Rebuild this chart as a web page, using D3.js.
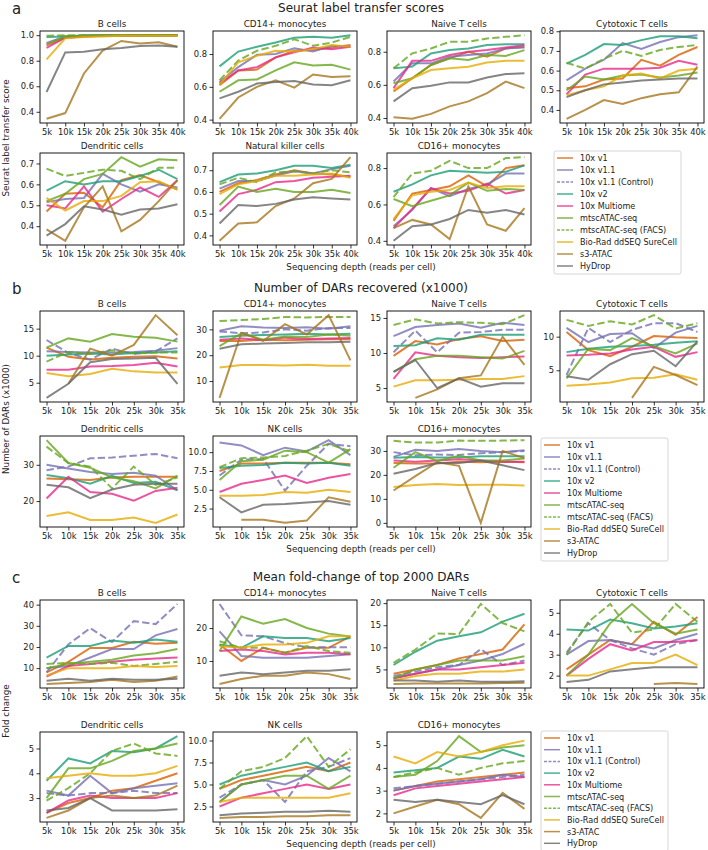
<!DOCTYPE html>
<html>
<head>
<meta charset="utf-8">
<script src="https://cdn.jsdelivr.net/npm/d3@7"></script>
<style>
  body { margin: 0; background: #fff; }
  svg { font-family: "DejaVu Sans", sans-serif; }
</style>
</head>
<body>
<div id="chart"></div>
<script>
// methods, in legend order
const methods = ["10x v1", "10x v1.1", "10x v1.1 (Control)", "10x v2", "10x Multiome",
  "mtscATAC-seq", "mtscATAC-seq (FACS)", "Bio-Rad ddSEQ SureCell", "s3-ATAC", "HyDrop"];
const colors = ["#d95f02", "#7570b3", "#7570b3", "#1b9e77", "#e7298a",
  "#66a61e", "#66a61e", "#e6ab02", "#a6761d", "#666666"];
const dashed = [false, false, true, false, false, false, true, false, false, false];

const depthsA = [5, 10, 15, 20, 25, 30, 35, 40];
const depthsBC = [5, 10, 15, 20, 25, 30, 35];

const cellTypes = ["B cells", "CD14+ monocytes", "Naive T cells", "Cytotoxic T cells",
  "Dendritic cells", "Natural killer cells", "CD16+ monocytes"];
const cellTypesShort = ["B cells", "CD14+ monocytes", "Naive T cells", "Cytotoxic T cells",
  "Dendritic cells", "NK cells", "CD16+ monocytes"];

// ---- a: Seurat label transfer scores (rows follow `methods`) ----
const aBcells = [
  [0.92, 0.98, 0.99, 0.995, 0.995, 0.995, 0.995, 0.995],
  [0.94, 0.99, 1.0, 1.0, 1.0, 1.0, 1.0, 1.0],
  null,
  [0.985, 0.99, 0.995, 1.0, 1.0, 1.0, 1.0, 1.0],
  [0.90, 0.98, 0.99, 0.995, 1.0, 1.0, 1.0, 1.0],
  [0.93, 0.99, 0.995, 1.0, 1.0, 1.0, 1.0, 1.0],
  [0.995, 1.0, 1.0, 1.0, 1.0, 1.0, 1.0, 1.0],
  [0.81, 0.975, 0.985, 0.99, 0.995, 0.995, 0.995, 0.995],
  [0.345, 0.39, 0.70, 0.88, 0.955, 0.935, 0.945, 0.91],
  [0.555, 0.865, 0.87, 0.89, 0.90, 0.915, 0.92, 0.91]
];
const aCD14 = [
  [0.61, 0.70, 0.705, 0.78, 0.82, 0.825, 0.84, 0.855],
  [0.63, 0.72, 0.795, 0.80, 0.835, 0.815, 0.85, 0.845],
  null,
  [0.725, 0.815, 0.845, 0.87, 0.90, 0.905, 0.90, 0.915],
  [0.62, 0.70, 0.72, 0.78, 0.81, 0.84, 0.83, 0.845],
  [0.57, 0.64, 0.645, 0.70, 0.75, 0.73, 0.735, 0.705],
  [0.64, 0.76, 0.82, 0.85, 0.89, 0.85, 0.87, 0.905],
  [0.61, 0.75, 0.79, 0.82, 0.815, 0.83, 0.855, 0.845],
  [0.405, 0.535, 0.60, 0.64, 0.595, 0.675, 0.66, 0.665],
  [0.53, 0.57, 0.62, 0.63, 0.635, 0.615, 0.61, 0.64]
];
const aNaive = [
  [0.56, 0.64, 0.72, 0.76, 0.80, 0.77, 0.82, 0.83],
  [0.62, 0.73, 0.73, 0.77, 0.78, 0.79, 0.82, 0.825],
  null,
  [0.70, 0.71, 0.79, 0.81, 0.82, 0.84, 0.845, 0.845],
  [0.58, 0.745, 0.745, 0.78, 0.80, 0.81, 0.825, 0.84],
  [0.61, 0.64, 0.72, 0.76, 0.75, 0.78, 0.775, 0.81],
  [0.70, 0.79, 0.82, 0.86, 0.86, 0.88, 0.89, 0.90],
  [0.57, 0.64, 0.69, 0.70, 0.71, 0.735, 0.745, 0.745],
  [0.405, 0.395, 0.425, 0.47, 0.50, 0.55, 0.62, 0.58],
  [0.50, 0.58, 0.595, 0.615, 0.615, 0.645, 0.665, 0.67]
];
const aCyto = [
  [0.51, 0.52, 0.555, 0.56, 0.655, 0.625, 0.68, 0.72],
  [0.55, 0.61, 0.655, 0.74, 0.71, 0.745, 0.77, 0.78],
  null,
  [0.635, 0.68, 0.735, 0.73, 0.755, 0.775, 0.775, 0.765],
  [0.48, 0.58, 0.61, 0.61, 0.61, 0.615, 0.65, 0.63],
  [0.50, 0.57, 0.555, 0.575, 0.58, 0.565, 0.575, 0.59],
  [0.64, 0.61, 0.66, 0.70, 0.675, 0.705, 0.72, 0.73],
  [0.475, 0.50, 0.52, 0.575, 0.585, 0.56, 0.60, 0.61],
  [0.355, 0.40, 0.45, 0.43, 0.46, 0.48, 0.49, 0.62],
  [0.465, 0.50, 0.53, 0.54, 0.55, 0.555, 0.56, 0.56]
];
const aDendritic = [
  [0.47, 0.555, 0.56, 0.49, 0.62, 0.645, 0.61, 0.575],
  [0.515, 0.53, 0.535, 0.65, 0.60, 0.565, 0.60, 0.585],
  null,
  [0.57, 0.615, 0.60, 0.615, 0.615, 0.64, 0.67, 0.625],
  [0.50, 0.485, 0.59, 0.47, 0.53, 0.585, 0.54, 0.62],
  [0.52, 0.555, 0.625, 0.65, 0.73, 0.685, 0.72, 0.715],
  [0.675, 0.64, 0.655, 0.67, 0.665, 0.625, 0.68, 0.68],
  [0.535, 0.475, 0.52, 0.52, 0.545, 0.61, 0.615, 0.575],
  [0.385, 0.33, 0.49, 0.59, 0.375, 0.43, 0.52, 0.62],
  [0.355, 0.41, 0.495, 0.48, 0.455, 0.48, 0.485, 0.505]
];
const aNK = [
  [0.60, 0.64, 0.655, 0.68, 0.70, 0.685, 0.68, 0.67],
  [0.615, 0.65, 0.65, 0.675, 0.695, 0.685, 0.705, 0.72],
  null,
  [0.645, 0.68, 0.685, 0.70, 0.72, 0.72, 0.71, 0.725],
  [0.51, 0.59, 0.61, 0.645, 0.65, 0.665, 0.67, 0.675],
  [0.54, 0.625, 0.60, 0.615, 0.60, 0.60, 0.61, 0.595],
  [0.635, 0.665, 0.645, 0.69, 0.695, 0.685, 0.70, 0.69],
  [0.59, 0.635, 0.65, 0.675, 0.675, 0.68, 0.685, 0.665],
  [0.375, 0.455, 0.46, 0.535, 0.57, 0.64, 0.66, 0.76],
  [0.455, 0.54, 0.535, 0.545, 0.565, 0.575, 0.57, 0.565]
];
const aCD16 = [
  [0.51, 0.66, 0.68, 0.70, 0.76, 0.70, 0.80, 0.815],
  [0.48, 0.57, 0.69, 0.645, 0.685, 0.71, 0.77, 0.77],
  null,
  [0.67, 0.71, 0.76, 0.785, 0.78, 0.775, 0.78, 0.815],
  [0.47, 0.575, 0.69, 0.66, 0.675, 0.715, 0.66, 0.68],
  [0.63, 0.59, 0.62, 0.65, 0.72, 0.675, 0.685, 0.68],
  [0.64, 0.77, 0.785, 0.84, 0.80, 0.80, 0.855, 0.86],
  [0.52, 0.65, 0.67, 0.68, 0.72, 0.69, 0.70, 0.70],
  [0.47, 0.515, 0.49, 0.41, 0.70, 0.49, 0.455, 0.58],
  [0.40, 0.48, 0.49, 0.52, 0.57, 0.555, 0.57, 0.545]
];

// ---- b: number of DARs (x1000) ----
const bBcells = [
  [11.5, 9.8, 9.3, 9.6, 9.8, 9.9, 9.5],
  [10.8, 10.7, 10.6, 10.6, 10.7, 10.9, 11.4],
  [12.9, 10.5, 9.3, 11.3, 10.3, 10.8, 13.2],
  [10.0, 10.2, 10.4, 10.2, 10.5, 10.6, 10.8],
  [7.4, 7.4, 8.0, 8.1, 8.3, 8.7, 8.0],
  [11.5, 13.2, 12.6, 14.0, 13.5, 13.3, 12.6],
  [8.9, 10.7, 10.3, 11.0, 10.4, 10.6, 10.6],
  [6.8, 6.2, 6.6, 7.6, 7.1, 6.9, 6.9],
  [null, 4.8, 11.3, 10.0, 12.0, 17.5, 13.8],
  [2.2, 4.8, 8.8, 9.4, 9.5, 9.6, 4.8]
];
const bCD14 = [
  [25.5, 25.5, 26.0, 25.8, 26.0, 26.2, 26.2],
  [29.5, 31.2, 30.7, 30.5, 30.8, 30.2, 31.2],
  [29.2, 28.5, 28.8, 30.0, 29.5, 30.5, 30.5],
  [27.0, 27.5, 27.8, 28.0, 28.3, 28.0, 28.3],
  [26.0, 26.5, 25.8, 26.8, 26.3, 26.5, 26.7],
  [23.5, 28.5, 26.0, 27.2, 27.0, 28.0, 27.5],
  [33.2, 33.6, 34.0, 34.8, 34.6, 34.8, 34.8],
  [15.2, 16.2, 16.2, 16.0, 16.3, 15.9, 15.9],
  [3.5, 28.7, 25.5, 32.0, 28.0, 35.5, 18.0],
  [22.5, 24.2, 24.5, 24.7, 25.0, 25.0, 25.2]
];
const bNaive = [
  [9.6, 11.7, 11.2, 12.0, 12.4, 11.7, 11.9],
  [12.4, 13.7, 14.0, 14.2, 13.6, 14.3, 14.0],
  [10.1, 13.2, 10.1, 12.9, 13.0, 13.3, 13.3],
  [11.0, 11.1, 12.1, 11.9, 12.6, 12.6, 12.6],
  [6.3, 10.1, 9.6, 9.4, 9.3, 9.4, 9.5],
  [7.3, 9.1, 9.6, 9.6, 9.4, 9.2, 10.3],
  [14.0, 14.8, 14.2, 14.4, 14.3, 14.1, 15.4],
  [5.2, 6.1, 6.1, 6.2, 6.3, 6.3, 6.7],
  [null, 3.6, 4.8, 6.4, 6.8, 12.3, 8.3],
  [7.3, 9.0, 5.0, 6.4, 5.2, 5.7, 5.7]
];
const bCyto = [
  [10.7, 8.0, 7.1, 8.5, 10.1, 9.9, 9.8],
  [11.3, 9.2, 10.4, 10.5, 8.3, 10.6, 11.6],
  [4.3, 11.3, 9.2, 11.0, 12.0, 12.0, 10.7],
  [7.7, 8.2, 8.5, 8.6, 8.8, 9.1, 9.3],
  [7.2, 7.3, 7.5, 8.1, 8.5, 7.0, 7.7],
  [3.8, 8.2, 8.0, 9.8, 8.6, 7.5, 9.0],
  [12.5, 11.6, 12.3, 11.8, 13.2, 11.2, 12.0],
  [2.7, 2.9, 3.2, 3.8, 3.9, 4.4, 3.6],
  [null, null, null, 0.9, 5.5, 4.3, 2.8],
  [4.1, 3.6, 5.9, 7.4, 7.9, 5.6, 9.3]
];
const bDendritic = [
  [26.2, 26.0, 25.8, 26.5, 26.7, 26.7, 26.7],
  [30.0, 29.0, 28.0, 27.5, 27.8, 27.0, 23.0],
  [28.5, 29.5, 31.8, 32.0, 32.5, 33.0, 31.8],
  [27.2, 26.3, 24.8, 27.0, 25.0, 25.3, 23.0],
  [20.7, 26.7, 22.5, 22.0, 20.1, 22.8, 23.7],
  [36.8, 30.5, 29.2, 26.5, 25.5, 23.5, 27.0],
  [35.0, 30.5, 29.5, 23.5, 29.5, 24.5, 26.5],
  [15.9, 16.9, 14.8, 14.8, 15.5, 14.0, 16.3],
  null,
  [24.5, 23.8, 20.8, 23.2, 24.5, 24.8, 24.8]
];
const bNK = [
  [7.5, 8.5, 8.5, 8.6, 8.6, 8.6, 8.4],
  [11.3, 10.9, 9.6, 10.6, 10.1, 11.6, 9.6],
  [6.9, 9.0, 9.1, 4.9, 8.2, 11.1, 10.8],
  [7.9, 8.2, 8.3, 8.6, 8.5, 8.6, 8.2],
  [4.7, 5.8, 6.3, 6.9, 5.9, 6.6, 7.1],
  [6.3, 8.8, 9.0, 10.2, 10.0, 8.6, 10.4],
  [8.0, 9.2, 9.3, 9.5, 10.2, 11.1, 10.1],
  [4.2, 4.2, 4.3, 4.7, 4.6, 5.0, 4.7],
  [null, 1.0, 1.0, 0.6, 0.9, 4.0, 3.4],
  [4.0, 2.0, 3.0, 3.1, 3.3, 3.5, 3.0]
];
const bCD16 = [
  [25.0, 24.8, 24.8, 25.5, 25.3, 25.5, 25.3],
  [27.5, 30.5, 30.0, 30.8, 30.0, 29.5, 30.3],
  [29.5, 28.2, 28.5, 28.3, 29.0, 29.5, 30.0],
  [27.2, 27.5, 27.3, 27.3, 27.8, 27.8, 27.8],
  [26.0, 25.5, 26.0, 26.5, 26.0, 25.5, 25.5],
  [23.0, 29.5, 25.8, 28.0, 26.0, 26.0, 26.8],
  [34.2, 33.5, 33.5, 34.3, 34.2, 34.3, 34.5],
  [15.0, 15.8, 16.2, 15.8, 15.9, 15.9, 15.6],
  [13.5, 19.5, 25.3, 23.8, 0.0, 30.0, 27.0],
  [20.5, 22.5, 25.0, 25.0, 26.0, 24.0, 22.0]
];

// ---- c: mean fold-change of top 2000 DARs ----
const cBcells = [
  [8, 13, 19.5, 19.5, 22.5, 21.5, 22],
  [10, 11, 15, 19, 19, 25.5, 28.5],
  [8, 21.2, 28.9, 22.3, 32.2, 30.8, 40.3],
  [15, 20.5, 20.5, 23, 22, 23.5, 22.5],
  [6, 11, 12, 13, 14, 14.5, 15],
  [10, 12, 13, 14, 16, 17, 19],
  [12, 12.5, 12, 12.5, 11, 12, 13],
  [6.5, 10, 10, 10, 11, 10.5, 11],
  [2.5, 3, 3.5, 4.5, 3.5, 4, 6],
  [4, 5, 4, 5, 4.5, 4.5, 5]
];
const cCD14 = [
  [15, 10, 14, 12.5, 14, 14, 17.5],
  [19, 11.5, 11, 11, 11, 11.5, 12],
  [27.3, 17.8, 17.5, 15.4, 14.2, 14.2, 14.2],
  [15, 14, 17.5, 17, 17, 16, 17],
  [13, 13.5, 13, 12, 12.5, 12.5, 12],
  [13, 23.5, 21.3, 22.7, 20, 18.3, 17.4],
  [16, 14, 14, 12.5, 14.5, 13, 12.5],
  [14.5, 14, 15, 15, 15.5, 17.5, 17.5],
  [3, 4.5, 5.5, 5.5, 6.5, 6, 4.5],
  [5.5, 6.5, 6, 6.5, 7, 7, 7.5]
];
const cNaive = [
  [4, 5, 6, 7.5, 8.5, 9.5, 15.2],
  [3, 4, 5, 6, 7, 8.5, 10.8],
  [3.5, 4.5, 5.5, 6, 9.6, 6, 7],
  [6, 9, 11.5, 12.5, 13.4, 15.8, 17.6],
  [3, 4, 5, 5, 5.5, 6, 6.5],
  [3, 5, 6, 7, 7, 7, 8],
  [6.5, 9.5, 13.1, 13, 19.8, 15.5, 13.6],
  [2.5, 3.5, 4, 4, 4.5, 4.5, 5],
  [1.7, 1.8, 1.8, 1.8, 1.8, 1.9, 2],
  [2.5, 2.5, 2.2, 2.5, 2.2, 2.2, 2.3]
];
const cCyto = [
  [2.3, 3, 3.7, 3.5, 4.57, 3.95, 4.8],
  [3.0, 3.65, 3.7, 3.5, 3.3, 3.7, 4.0],
  [3.1, 4.5, 3.7, 3.3, 3.0, 3.5, 3.7],
  [4.2, 4.15, 4.68, 4.5, 4.25, 4.35, 4.5],
  [2.0, 2.8, 3.5, 3.2, 3.6, 3.6, 3.7],
  [2.0, 3.0, 4.5, 5.42, 4.5, 4.0, 4.2],
  [3.0, 4.57, 5.42, 4.05, 4.2, 5.42, 4.57],
  [2.0, 2.0, 2.3, 2.6, 2.6, 3.0, 2.5],
  [null, null, null, null, 1.6, 1.65, 1.6],
  [1.7, 1.8, 2.2, 2.3, 2.4, 2.4, 2.4]
];
const cDendritic = [
  [2.4, 2.8, 3.0, 3.3, 3.4, 3.7, 4.0],
  [3.3, 3.1, 3.9, 3.2, 3.4, 3.5, 3.6],
  [3.2, 3.1, 3.2, 3.2, 3.3, 3.2, 3.2],
  [3.7, 4.6, 4.4, 4.9, 4.85, 5.0, 5.5],
  [2.4, 2.9, 3.1, 3.0, 3.0, 3.0, 3.2],
  [3.0, 4.2, 4.2, 4.5, 4.9, 5.0, 5.2],
  [2.9, 3.4, 4.0, 4.9, 5.2, 4.8, 4.7],
  [3.8, 3.9, 4.0, 3.9, 3.9, 4.0, 4.3],
  [2.2, 2.5, 3.0, 3.1, 3.0, 3.1, 3.5],
  [2.5, 2.6, 3.0, 2.5, 2.5, 2.5, 2.55]
];
const cNK = [
  [4.5, 5.5, 6, 6.5, 7, 6.5, 7.5],
  [3, 5, 5.5, 5, 6, 8, 6.5],
  [3.5, 5, 5.5, 3, 6.5, 7, 8],
  [5, 6, 6.5, 7, 7.5, 6.5, 7],
  [2.5, 3.5, 4, 4.5, 5, 4.5, 5],
  [3, 5, 5.5, 6, 6, 4.5, 6],
  [4.5, 6.5, 7, 8, 10.5, 7, 9],
  [3, 3.5, 3.5, 3.5, 3.5, 3.5, 4],
  [1.2, 1.3, 1.3, 1.4, 1.4, 1.5, 1.5],
  [1.5, 1.7, 1.8, 1.9, 1.9, 2, 1.9]
];
const cCD16 = [
  [3.0, 3.2, 3.4, 3.5, 3.6, 3.7, 3.8],
  [3.0, 3.2, 3.3, 3.4, 3.5, 3.7, 3.6],
  [3.1, 3.2, 3.3, 3.4, 3.5, 3.6, 3.7],
  [3.8, 3.9, 4.0, 4.5, 4.4, 4.8, 4.5],
  [2.8, 3.1, 3.2, 3.3, 3.4, 3.5, 3.6],
  [3.6, 3.7, 4.3, 5.4, 4.7, 4.9, 5.0],
  [3.6, 3.8, 4.0, 3.7, 4.0, 4.2, 4.3],
  [4.5, 4.2, 4.7, 4.5, 4.7, 5.0, 5.2],
  [2.0, 2.3, 2.6, 2.4, 1.8, 2.9, 2.2],
  [2.6, 2.5, 2.6, 2.5, 2.4, 2.8, 2.4]
];

// y tick values per subplot
const aTicks = [[0.4, 0.6, 0.8, 1.0], [0.4, 0.6, 0.8], [0.4, 0.6, 0.8], [0.4, 0.5, 0.6, 0.7, 0.8],
  [0.4, 0.5, 0.6, 0.7], [0.4, 0.5, 0.6, 0.7], [0.4, 0.6, 0.8]];
const bTicks = [[5, 10, 15], [10, 20, 30], [5, 10, 15], [5, 10], [20, 30], [2.5, 5, 7.5, 10], [0, 10, 20, 30]];
const cTicks = [[0, 10, 20, 30, 40], [10, 20], [5, 10, 15, 20], [2, 3, 4, 5], [2, 3, 4, 5], [2.5, 5, 7.5, 10], [2, 3, 4, 5]];

const width = 708, height = 850;
const svg = d3.select("#chart").append("svg")
  .attr("width", width)
  .attr("height", height);

const cols = [[40, 184], [213, 357], [387, 531], [560, 704]];

const panels = [
  { letter: "a", title: "Seurat label transfer scores", ylabel: "Seurat label transfer score",
    titleY: 12, rows: [[31, 123], [153, 245]], legendX: 554, legendY: 151, legendStep: 12,
    depths: depthsA, names: cellTypes,
    data: [aBcells, aCD14, aNaive, aCyto, aDendritic, aNK, aCD16], ticks: aTicks, fmt: ".1f" },
  { letter: "b", title: "Number of DARs recovered (x1000)", ylabel: "Number of DARs (x1000)",
    titleY: 292, rows: [[311, 402], [436, 527]], legendX: 541, legendY: 438, legendStep: 12,
    depths: depthsBC, names: cellTypesShort,
    data: [bBcells, bCD14, bNaive, bCyto, bDendritic, bNK, bCD16], ticks: bTicks, fmt: null },
  { letter: "c", title: "Mean fold-change of top 2000 DARs", ylabel: "Fold change",
    titleY: 581, rows: [[600, 688], [732, 822]], legendX: 541, legendY: 731, legendStep: 11.7,
    depths: depthsBC, names: cellTypesShort,
    data: [cBcells, cCD14, cNaive, cCyto, cDendritic, cNK, cCD16], ticks: cTicks, fmt: null }
];

function fmtFor(ticks, fmt) {
  if (fmt) return d3.format(fmt);
  const dec = ticks.some(t => t % 1 !== 0);
  return dec ? d3.format(".1f") : d3.format("d");
}

function drawSubplot(g, box, name, series, ticks, fmt, depths) {
  const [x0, x1, y0, y1] = box;
  const span = depths[depths.length - 1] - depths[0];
  const x = d3.scaleLinear()
    .domain([depths[0] - 0.05 * span, depths[depths.length - 1] + 0.05 * span])
    .range([x0, x1]);

  const vals = series.filter(s => s).flat().filter(v => v != null);
  const lo = d3.min(vals), hi = d3.max(vals);
  const pad = (hi - lo) * 0.05;
  const y = d3.scaleLinear().domain([lo - pad, hi + pad]).range([y1, y0]);

  const line = d3.line()
    .defined(d => d[1] != null)
    .x(d => x(d[0]))
    .y(d => y(d[1]));

  series.forEach((s, i) => {
    if (!s) return;
    g.append("path")
      .datum(depths.map((d, j) => [d, s[j]]))
      .attr("d", line)
      .attr("fill", "none")
      .attr("stroke", colors[i])
      .attr("stroke-opacity", 0.8)
      .attr("stroke-width", 2)
      .attr("stroke-dasharray", dashed[i] ? "7.4,3.2" : null);
  });

  g.append("rect")
    .attr("x", x0).attr("y", y0)
    .attr("width", x1 - x0).attr("height", y1 - y0)
    .attr("fill", "none").attr("stroke", "#000").attr("stroke-width", 0.9);

  const xAxis = g.append("g")
    .attr("transform", `translate(0,${y1})`)
    .call(d3.axisBottom(x).tickValues(depths).tickFormat(d => d + "k").tickSize(3.5).tickPadding(2.5));
  const [dlo, dhi] = y.domain();
  const yAxis = g.append("g")
    .attr("transform", `translate(${x0},0)`)
    .call(d3.axisLeft(y)
      .tickValues(ticks.filter(t => t >= dlo - 1e-9 && t <= dhi + 1e-9))
      .tickFormat(fmtFor(ticks, fmt)).tickSize(3.5).tickPadding(2.5));
  [xAxis, yAxis].forEach(a => {
    a.select(".domain").remove();
    a.selectAll("text").attr("font-size", 8.4).attr("fill", "#222")
      .attr("font-family", "DejaVu Sans, sans-serif");
    a.selectAll("line").attr("stroke", "#000").attr("stroke-width", 0.8);
  });

  g.append("text")
    .attr("x", (x0 + x1) / 2).attr("y", y0 - 4.5)
    .attr("text-anchor", "middle")
    .attr("font-size", 8.8).attr("fill", "#222")
    .text(name);
}

function drawLegend(g, lx, ly, step) {
  const lg = g.append("g").attr("transform", `translate(${lx},${ly})`);
  lg.append("rect")
    .attr("width", 127).attr("height", 3 + 10 * step)
    .attr("rx", 2)
    .attr("fill", "#fff").attr("fill-opacity", 0.8)
    .attr("stroke", "#ccc").attr("stroke-width", 0.8);
  methods.forEach((m, i) => {
    const cy = 7 + i * step;
    lg.append("line")
      .attr("x1", 3).attr("x2", 19).attr("y1", cy).attr("y2", cy)
      .attr("stroke", colors[i]).attr("stroke-opacity", 0.8)
      .attr("stroke-width", 1.5)
      .attr("stroke-dasharray", dashed[i] ? "3,1.5" : null);
    lg.append("text")
      .attr("x", 26).attr("y", cy + 3)
      .attr("font-size", 8.1).attr("fill", "#222")
      .text(m);
  });
}

panels.forEach(p => {
  const g = svg.append("g");
  g.append("text")
    .attr("x", 361).attr("y", p.titleY)
    .attr("text-anchor", "middle")
    .attr("font-size", 12).attr("fill", "#222")
    .text(p.title);
  g.append("text")
    .attr("x", 12).attr("y", p.titleY + 2)
    .attr("font-size", 15).attr("fill", "#222")
    .text(p.letter);

  p.data.forEach((series, k) => {
    const r = k < 4 ? 0 : 1;
    const c = k < 4 ? k : k - 4;
    const box = [cols[c][0], cols[c][1], p.rows[r][0], p.rows[r][1]];
    drawSubplot(g, box, p.names[k], series, p.ticks[k], p.fmt, p.depths);
  });

  const ymid = (p.rows[0][0] + p.rows[1][1]) / 2;
  g.append("text")
    .attr("transform", `translate(9,${ymid}) rotate(-90)`)
    .attr("text-anchor", "middle")
    .attr("font-size", 8.8).attr("fill", "#222")
    .text(p.ylabel);

  g.append("text")
    .attr("x", 361).attr("y", p.rows[1][1] + 25)
    .attr("text-anchor", "middle")
    .attr("font-size", 8.8).attr("fill", "#222")
    .text("Sequencing depth (reads per cell)");

  drawLegend(g, p.legendX, p.legendY, p.legendStep);
});
</script>
</body>
</html>
